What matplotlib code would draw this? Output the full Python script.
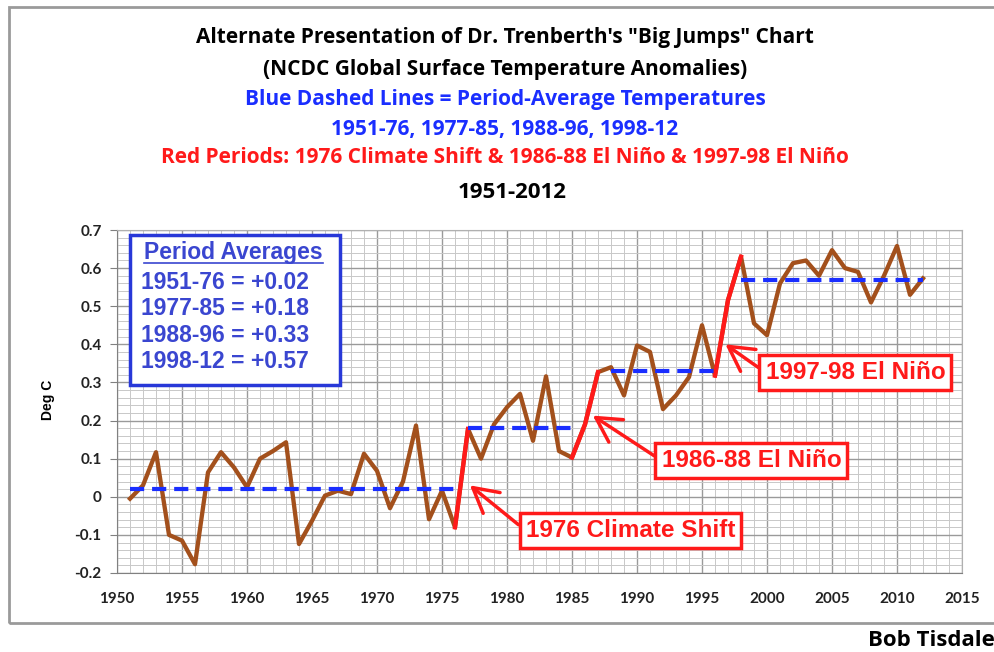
import numpy as np
import matplotlib.pyplot as plt
from matplotlib.ticker import MultipleLocator
from matplotlib.patches import Rectangle

# NCDC global surface temperature anomalies (deg C)
years = np.arange(1951, 2013)
anom = [-0.005, 0.03, 0.117, -0.10, -0.115, -0.177, 0.064, 0.117, 0.077, 0.025,
        0.10, 0.12, 0.143, -0.124, -0.063, 0.003, 0.016, 0.007, 0.113, 0.068,
        -0.03, 0.04, 0.187, -0.059, 0.016, -0.08, 0.178, 0.10, 0.19, 0.235,
        0.27, 0.147, 0.316, 0.12, 0.103, 0.19, 0.327, 0.34, 0.266, 0.397,
        0.38, 0.23, 0.266, 0.314, 0.45, 0.318, 0.516, 0.63, 0.455, 0.424,
        0.56, 0.613, 0.62, 0.58, 0.647, 0.60, 0.59, 0.51, 0.58, 0.658,
        0.53, 0.573]

red_periods = [(1976, 1977), (1985, 1987), (1996, 1998)]

period_start = [1951, 1977, 1988, 1998]
period_end = [1976, 1985, 1996, 2012]
period_mean = [0.02, 0.18, 0.33, 0.57]
period_labels = ["1951-76 = +0.02", "1977-85 = +0.18", "1988-96 = +0.33", "1998-12 = +0.57"]

notes = ["1976 Climate Shift", "1986-88 El Niño", "1997-98 El Niño"]
note_tip = [(1977.15, 0.03), (1986.6, 0.213), (1996.8, 0.40)]
note_text = [(1989.5, -0.089), (1998.8, 0.095), (2006.8, 0.326)]

brown = '#A3501C'
red = '#FF1A1A'
blue = '#1A2EFF'
boxblue = '#3a46d0'

fig = plt.figure(figsize=(9.94, 6.52), dpi=100)
ax = fig.add_axes([117/994, 1-573/652, 845/994, 343/652])

# outer frame of the chart
fig.patches.append(Rectangle((9/994, 1-623/652), 1.0, 616/652, transform=fig.transFigure,
                             fill=False, ec='#9a9a9a', lw=2, zorder=0))

ax.plot(years, anom, color=brown, lw=3.1, zorder=3)
yrs = list(years)
for a, b in red_periods:
    i, j = yrs.index(a), yrs.index(b)
    ax.plot(years[i:j+1], anom[i:j+1], color=red, lw=3.1, zorder=4)

for s, e, m in zip(period_start, period_end, period_mean):
    ax.plot([s, e], [m, m], color=blue, lw=3, ls=(0, (3.4, 1.9)), zorder=5)

ax.set_xlim(1950, 2015)
ax.set_ylim(-0.2, 0.7)
ax.xaxis.set_major_locator(MultipleLocator(5))
ax.xaxis.set_minor_locator(MultipleLocator(1))
ax.yaxis.set_major_locator(MultipleLocator(0.1))
ax.yaxis.set_minor_locator(MultipleLocator(0.02))
ax.grid(which='major', color='#9a9a9a', lw=1.0)
ax.grid(which='minor', color='#c8c8c8', lw=0.7)
ax.set_axisbelow(True)
for sp in ax.spines.values():
    sp.set_color('#b0b0b0')
ax.spines['left'].set_color('#808080')
ax.spines['bottom'].set_color('#808080')
ax.tick_params(which='minor', length=0)
ax.tick_params(axis='x', which='major', length=0, pad=14)
ax.tick_params(axis='y', which='major', length=5, color='#808080', pad=6)

ax.set_yticks(np.arange(-0.2, 0.71, 0.1))
ax.set_yticklabels(['-0.2', '-0.1', '0', '0.1', '0.2', '0.3', '0.4', '0.5', '0.6', '0.7'])
for lab in ax.get_xticklabels() + ax.get_yticklabels():
    lab.set_fontfamily('Lato')
    lab.set_fontweight('bold')
    lab.set_fontsize(11)
    lab.set_color('#222222')

fig.text(48/994, 1-400/652, 'Deg C', rotation=90, ha='center', va='center',
         fontsize=10, fontweight='bold', family='Liberation Sans')

# titles
titles = [("Alternate Presentation of Dr. Trenberth's \"Big Jumps\" Chart", 'black', 38),
          ("(NCDC Global Surface Temperature Anomalies)", 'black', 69),
          ("Blue Dashed Lines = Period-Average Temperatures", blue, 99),
          ("1951-76, 1977-85, 1988-96, 1998-12", blue, 129),
          ("Red Periods: 1976 Climate Shift & 1986-88 El Niño & 1997-98 El Niño", red, 158)]
for t, c, y in titles:
    fig.text(505/994, 1-y/652, t, ha='center', va='center', color=c,
             fontsize=15, fontweight='bold', family='Open Sans')
fig.text(512/994, 1-193/652, '1951-2012', ha='center', va='center',
         fontsize=16, fontweight='bold', family='Open Sans')

fig.text(868/994, 1-640/652, 'Bob Tisdale', ha='left', va='center',
         fontsize=16, fontweight='bold', family='Open Sans')

# period averages box
ax.add_patch(Rectangle((13/845, (573-385)/343), 210/845, 150/343, transform=ax.transAxes,
                       fill=True, fc='white', ec='#2838d8', lw=2.5, zorder=6))
hdr = ax.text(0.138, (573-253)/343, 'Period Averages', transform=ax.transAxes,
              ha='center', va='center', color=boxblue, fontsize=16.5,
              fontweight='bold', family='Liberation Sans', zorder=7)
ax.text(0.028, (573-322)/343, '\n'.join(period_labels), transform=ax.transAxes,
        ha='left', va='center', color=boxblue, fontsize=16.5, linespacing=1.18,
        fontweight='bold', family='Liberation Sans', zorder=7)
fig.canvas.draw()
bb = hdr.get_window_extent().transformed(fig.transFigure.inverted())
fig.add_artist(plt.Line2D([bb.x0, bb.x1], [bb.y0 + 0.002, bb.y0 + 0.002],
                          transform=fig.transFigure, color=boxblue, lw=1.2))

# red callouts
for label, tip, pos in zip(notes, note_tip, note_text):
    ax.annotate(label, xy=tip, xytext=pos, ha='center', va='center',
                color=red, fontsize=17.5, fontweight='bold', family='Liberation Sans',
                bbox=dict(boxstyle='square,pad=0.25', fc='white', ec=red, lw=2.5),
                arrowprops=dict(arrowstyle='->,head_length=1.0,head_width=0.55',
                                color=red, lw=2.5, shrinkA=0, shrinkB=0,
                                relpos=(0, 0.5)),
                zorder=8)

fig.savefig('out.png', dpi=100, facecolor='white')
